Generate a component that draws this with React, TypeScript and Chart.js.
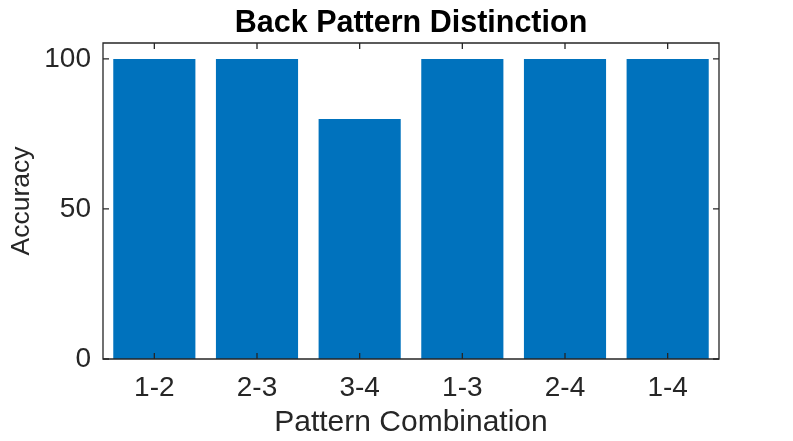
import React, { useEffect, useRef } from "react";
import { Chart, registerables } from "chart.js";

Chart.register(...registerables);

const categories = ["1-2", "2-3", "3-4", "1-3", "2-4", "1-4"];
const accuracy = [100, 100, 80, 100, 100, 100];
const yTicks = [0, 50, 100];
const yMin = 0;
const yMax = 105.3;
const titleText = "Back Pattern Distinction";
const xLabel = "Pattern Combination";
const yLabel = "Accuracy";

const FONT = "'Liberation Sans', Arial, Helvetica, sans-serif";
const AXIS_COLOR = "#262626";
const BAR_COLOR = "#0072BD";

const boxPlugin = {
  id: "matlabBox",
  afterDatasetsDraw(chart: any) {
    const { ctx, chartArea, scales } = chart;
    const { left, top, right, bottom } = chartArea;
    const xs = scales.x;
    const ys = scales.y;
    const tl = 6;
    ctx.save();
    ctx.strokeStyle = AXIS_COLOR;
    ctx.lineWidth = 1.3;
    ctx.beginPath();
    ctx.rect(left, top, right - left, bottom - top);
    ctx.stroke();
    ctx.beginPath();
    xs.ticks.forEach((_t: any, i: number) => {
      const px = xs.getPixelForTick(i);
      ctx.moveTo(px, bottom);
      ctx.lineTo(px, bottom - tl);
      ctx.moveTo(px, top);
      ctx.lineTo(px, top + tl);
    });
    ys.ticks.forEach((t: any) => {
      const py = ys.getPixelForValue(t.value);
      ctx.moveTo(left, py);
      ctx.lineTo(left + tl, py);
      ctx.moveTo(right, py);
      ctx.lineTo(right - tl, py);
    });
    ctx.stroke();
    ctx.restore();
  },
};

export default function App() {
  const canvasRef = useRef<HTMLCanvasElement | null>(null);

  useEffect(() => {
    if (!canvasRef.current) return;
    const chart = new Chart(canvasRef.current, {
      type: "bar",
      data: {
        labels: categories,
        datasets: [
          {
            data: accuracy,
            backgroundColor: BAR_COLOR,
            borderWidth: 0,
            categoryPercentage: 0.8,
            barPercentage: 1,
          },
        ],
      },
      options: {
        animation: false,
        responsive: true,
        maintainAspectRatio: false,
        layout: { padding: { left: 0, right: 74, top: 0, bottom: 0 } },
        plugins: {
          legend: { display: false },
          tooltip: { enabled: false },
          title: {
            display: true,
            text: titleText,
            fullSize: false,
            color: "#000000",
            font: { family: FONT, size: 30.5, weight: "bold", lineHeight: 1.2 },
            padding: { top: 5.4, bottom: 1 },
          },
        },
        scales: {
          x: {
            type: "category",
            offset: true,
            grid: { display: false, drawTicks: false },
            border: { display: false },
            ticks: {
              color: AXIS_COLOR,
              font: { family: FONT, size: 28 },
              padding: 12,
              maxRotation: 0,
              autoSkip: false,
            },
            title: {
              display: true,
              text: xLabel,
              color: AXIS_COLOR,
              font: { family: FONT, size: 30 },
              padding: { top: 0, bottom: 0 },
            },
            afterFit: (scale: any) => {
              scale.height = 82;
            },
          },
          y: {
            type: "linear",
            min: yMin,
            max: yMax,
            grid: { display: false, drawTicks: false },
            border: { display: false },
            afterBuildTicks: (scale: any) => {
              scale.ticks = yTicks.map((v) => ({ value: v }));
            },
            ticks: {
              color: AXIS_COLOR,
              font: { family: FONT, size: 28 },
              padding: 12,
            },
            title: {
              display: true,
              text: yLabel,
              color: AXIS_COLOR,
              font: { family: FONT, size: 26.5 },
              padding: { top: 6, bottom: 0 },
            },
            afterFit: (scale: any) => {
              scale.width = 103;
            },
          },
        },
      },
      plugins: [boxPlugin],
    });
    return () => chart.destroy();
  }, []);

  return (
    <div style={{ position: "absolute", left: 0, top: 0, width: 793, height: 441, background: "#ffffff" }}>
      <canvas ref={canvasRef} />
    </div>
  );
}
